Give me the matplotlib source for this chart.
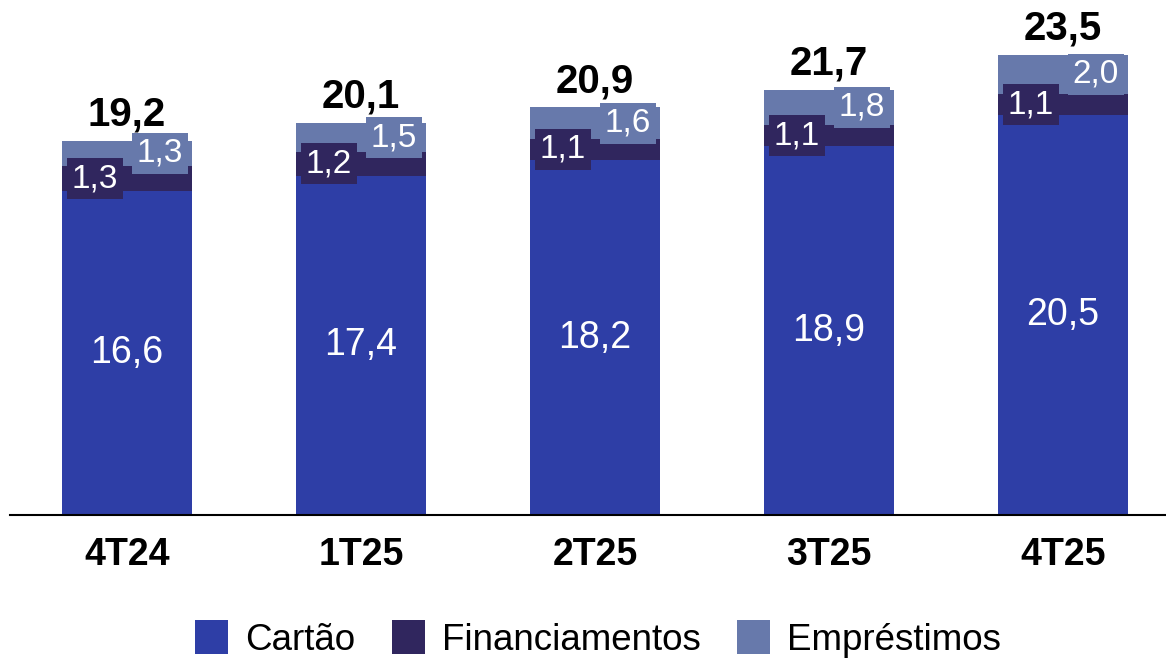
import numpy as np
import matplotlib.pyplot as plt

plt.rcParams['font.family'] = ['Liberation Sans', 'DejaVu Sans']

# Data
periodos = ['4T24', '1T25', '2T25', '3T25', '4T25']
cartao = [16.6, 17.4, 18.2, 18.9, 20.5]
financiamentos = [1.3, 1.2, 1.1, 1.1, 1.1]
emprestimos = [1.3, 1.5, 1.6, 1.8, 2.0]
totais = [19.2, 20.1, 20.9, 21.7, 23.5]

c_cartao = '#2E3EA6'
c_fin = '#30265E'
c_emp = '#6779AB'

def fmt(v):
    return f'{v:.1f}'.replace('.', ',')

fig = plt.figure(figsize=(11.66, 6.6), dpi=100)
ax = fig.add_axes([10/1166, 145/660, 1156/1166, 515/660])

x = np.arange(len(periodos))
w = 0.556
cartao = np.array(cartao)
financiamentos = np.array(financiamentos)
emprestimos = np.array(emprestimos)

b1 = ax.bar(x, cartao, w, color=c_cartao, label='Cartão')
b2 = ax.bar(x, financiamentos, w, bottom=cartao, color=c_fin, label='Financiamentos')
b3 = ax.bar(x, emprestimos, w, bottom=cartao + financiamentos, color=c_emp, label='Empréstimos')

for i in range(len(x)):
    ax.text(x[i], cartao[i] / 2, fmt(cartao[i]), ha='center', va='center',
            color='white', fontsize=27)
    ax.text(x[i] - 0.137, cartao[i] + financiamentos[i] / 2, fmt(financiamentos[i]),
            ha='center', va='center', color='white', fontsize=24,
            bbox=dict(boxstyle='square,pad=0.15', fc=c_fin, ec='none'))
    ax.text(x[i] + 0.14, cartao[i] + financiamentos[i] + emprestimos[i] / 2, fmt(emprestimos[i]),
            ha='center', va='center', color='white', fontsize=24,
            bbox=dict(boxstyle='square,pad=0.15', fc=c_emp, ec='none'))
    ax.annotate(fmt(totais[i]), (x[i], cartao[i] + financiamentos[i] + emprestimos[i]),
                xytext=(0, 11), textcoords='offset points', ha='center', va='baseline',
                fontsize=29, fontweight='bold')

ax.set_xlim(-0.5, 4.44)
ax.set_ylim(0, 26.41)
ax.set_xticks(x)
ax.set_xticklabels(periodos, fontsize=27, fontweight='bold')
ax.tick_params(axis='x', length=0, pad=16)
ax.set_yticks([])
for s in ['top', 'right', 'left']:
    ax.spines[s].set_visible(False)
ax.spines['bottom'].set_linewidth(1.5)

fig.legend(handles=[b1, b2, b3], loc='center', bbox_to_anchor=(0.513, 21/660),
           ncol=3, frameon=False, fontsize=26.5, handlelength=0.9, handleheight=1.05,
           handletextpad=0.45, columnspacing=1.0)

fig.savefig('out.png', dpi=100)
